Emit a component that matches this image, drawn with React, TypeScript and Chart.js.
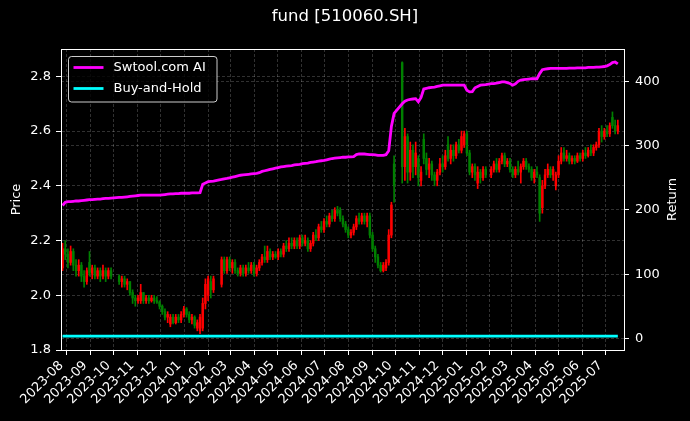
import React, { useEffect, useRef } from "react";
import { Chart, registerables } from "chart.js";

Chart.register(...registerables);

const FONT = "'DejaVu Sans', 'Liberation Sans', sans-serif";
const TITLE = "fund [510060.SH]";
const Y_LABEL = "Price";
const Y1_LABEL = "Return";
const SERIES_AI = "Swtool.com AI";
const SERIES_BH = "Buy-and-Hold";

const AXIS_ORIGIN = "2023-08-01";
const X_MIN_DATE = "2023-07-25";
const X_MAX_DATE = "2025-07-25";
const FIRST_CANDLE_DATE = "2023-07-27";
const CANDLE_STEP_DAYS = 3.5;

const MONTH_TICKS = [
  "2023-08", "2023-09", "2023-10", "2023-11", "2023-12",
  "2024-01", "2024-02", "2024-03", "2024-04", "2024-05", "2024-06", "2024-07",
  "2024-08", "2024-09", "2024-10", "2024-11", "2024-12",
  "2025-01", "2025-02", "2025-03", "2025-04", "2025-05", "2025-06", "2025-07",
];
const PRICE_TICKS = [1.8, 2.0, 2.2, 2.4, 2.6, 2.8];
const RETURN_TICKS = [0, 100, 200, 300, 400];
const PRICE_MIN = 1.8;
const PRICE_MAX = 2.9;
const RETURN_MIN = -17.6;
const RETURN_MAX = 450.2;

// candle data (null = market closed)
const opens = [
  2.10, 2.17, 2.15, 2.12, 2.16, 2.11, 2.09, 2.11, 2.07, 2.05,
  2.12, 2.08, 2.10, 2.07, 2.09, 2.07, 2.09, 2.07, 2.09, null,
  null, 2.07, 2.05, 2.06, 2.04, 2.05, 2.01, 1.99, 1.98, 1.98,
  2.01, 1.98, 1.99, 1.98, 1.99, 1.98, 1.975, 1.96, 1.94, 1.92,
  1.895, 1.92, 1.90, 1.92, 1.91, 1.93, 1.95, 1.93, 1.91, 1.92,
  1.88, 1.87, 1.88, 1.97, 2.00, 2.05, 2.02, null, null, 2.04,
  2.13, 2.09, 2.13, 2.10, 2.12, 2.09, 2.08, 2.10, 2.08, 2.10,
  2.09, 2.11, 2.08, 2.10, 2.12, 2.14, 2.13, 2.16, 2.14, 2.15,
  2.14, 2.16, 2.15, 2.18, 2.17, 2.19, 2.18, 2.20, 2.18, 2.21,
  2.19, 2.20, 2.17, 2.19, 2.22, 2.21, 2.25, 2.24, 2.27, 2.26,
  2.29, 2.28, 2.31, 2.31, 2.28, 2.26, 2.24, 2.22, 2.23, 2.25,
  2.28, 2.27, 2.29, 2.27, 2.29, 2.22, 2.17, 2.14, 2.11, 2.09,
  2.10, 2.12, 2.22, 2.48, null, null, 2.85, 2.47, 2.58, 2.45,
  2.53, 2.47, 2.50, 2.42, 2.57, 2.50, 2.46, 2.48, 2.44, 2.42,
  2.45, 2.48, 2.47, 2.55, 2.50, 2.53, 2.51, 2.55, 2.53, 2.55,
  2.59, 2.52, 2.45, 2.47, 2.41, 2.45, 2.43, 2.46, null, 2.44,
  2.46, 2.48, 2.46, 2.49, 2.51, 2.48, 2.49, 2.46, 2.44, 2.46,
  2.45, 2.47, 2.49, 2.47, 2.46, 2.43, 2.45, 2.43, 2.32, 2.40,
  2.44, 2.46, 2.44, 2.40, 2.44, 2.49, 2.52, 2.50, 2.51, 2.49,
  2.50, 2.49, 2.51, 2.50, 2.52, 2.51, 2.53, 2.52, 2.54, 2.55,
  2.60, 2.58, 2.60, 2.59, 2.65, 2.62, 2.60,
];
const closes = [
  2.17, 2.15, 2.12, 2.16, 2.11, 2.09, 2.11, 2.07, 2.05, 2.09,
  2.08, 2.10, 2.07, 2.09, 2.07, 2.09, 2.07, 2.09, 2.07, null,
  null, 2.05, 2.06, 2.04, 2.05, 2.01, 1.99, 1.98, 1.99, 2.01,
  1.98, 1.99, 1.98, 1.99, 1.98, 1.975, 1.96, 1.94, 1.92, 1.93,
  1.92, 1.90, 1.92, 1.91, 1.93, 1.95, 1.93, 1.91, 1.92, 1.89,
  1.90, 1.92, 1.97, 2.04, 2.06, 2.02, 2.06, null, null, 2.13,
  2.09, 2.13, 2.10, 2.12, 2.09, 2.08, 2.10, 2.08, 2.10, 2.09,
  2.11, 2.08, 2.10, 2.12, 2.14, 2.13, 2.16, 2.14, 2.15, 2.14,
  2.16, 2.15, 2.18, 2.17, 2.19, 2.18, 2.20, 2.18, 2.21, 2.19,
  2.20, 2.17, 2.19, 2.22, 2.21, 2.25, 2.24, 2.27, 2.26, 2.29,
  2.28, 2.31, 2.30, 2.28, 2.26, 2.24, 2.22, 2.23, 2.25, 2.28,
  2.27, 2.29, 2.27, 2.29, 2.22, 2.17, 2.14, 2.11, 2.09, 2.11,
  2.12, 2.22, 2.33, 2.40, null, null, 2.47, 2.58, 2.45, 2.53,
  2.47, 2.52, 2.43, 2.45, 2.50, 2.46, 2.48, 2.44, 2.42, 2.45,
  2.48, 2.47, 2.51, 2.50, 2.53, 2.51, 2.55, 2.53, 2.58, 2.59,
  2.52, 2.45, 2.47, 2.44, 2.45, 2.43, 2.46, 2.44, null, 2.46,
  2.48, 2.46, 2.49, 2.51, 2.48, 2.49, 2.46, 2.44, 2.46, 2.45,
  2.47, 2.49, 2.47, 2.46, 2.43, 2.45, 2.44, 2.30, 2.40, 2.44,
  2.46, 2.44, 2.46, 2.44, 2.49, 2.52, 2.50, 2.51, 2.49, 2.50,
  2.49, 2.51, 2.50, 2.52, 2.51, 2.53, 2.52, 2.54, 2.55, 2.60,
  2.58, 2.60, 2.59, 2.62, 2.62, 2.60, 2.62,
];
const highs = [
  2.19, 2.20, 2.17, 2.18, 2.17, 2.13, 2.13, 2.12, 2.09, 2.10,
  2.16, 2.11, 2.11, 2.10, 2.10, 2.11, 2.10, 2.10, 2.10, null,
  null, 2.075, 2.07, 2.07, 2.06, 2.05, 2.02, 2.00, 2.00, 2.04,
  2.01, 2.00, 2.00, 2.00, 2.00, 1.995, 1.98, 1.965, 1.95, 1.94,
  1.93, 1.93, 1.93, 1.93, 1.94, 1.96, 1.955, 1.94, 1.93, 1.925,
  1.91, 1.93, 1.99, 2.06, 2.07, 2.07, 2.07, null, null, 2.14,
  2.14, 2.14, 2.14, 2.13, 2.13, 2.10, 2.11, 2.11, 2.11, 2.12,
  2.12, 2.12, 2.11, 2.13, 2.15, 2.18, 2.18, 2.17, 2.16, 2.16,
  2.17, 2.17, 2.19, 2.20, 2.21, 2.21, 2.21, 2.21, 2.22, 2.22,
  2.22, 2.21, 2.20, 2.23, 2.24, 2.26, 2.27, 2.28, 2.29, 2.30,
  2.31, 2.32, 2.325, 2.32, 2.29, 2.27, 2.25, 2.24, 2.26, 2.29,
  2.30, 2.30, 2.30, 2.30, 2.30, 2.23, 2.18, 2.15, 2.12, 2.12,
  2.13, 2.24, 2.34, 2.51, null, null, 2.853, 2.61, 2.59, 2.56,
  2.55, 2.56, 2.51, 2.47, 2.59, 2.52, 2.50, 2.49, 2.45, 2.46,
  2.50, 2.51, 2.53, 2.58, 2.55, 2.55, 2.56, 2.57, 2.60, 2.60,
  2.60, 2.53, 2.48, 2.48, 2.47, 2.46, 2.47, 2.47, null, 2.47,
  2.49, 2.50, 2.50, 2.52, 2.52, 2.50, 2.50, 2.47, 2.47, 2.49,
  2.48, 2.50, 2.50, 2.48, 2.47, 2.46, 2.47, 2.44, 2.42, 2.46,
  2.48, 2.47, 2.47, 2.45, 2.51, 2.54, 2.54, 2.53, 2.52, 2.51,
  2.51, 2.52, 2.52, 2.53, 2.54, 2.54, 2.55, 2.55, 2.56, 2.61,
  2.62, 2.61, 2.62, 2.63, 2.67, 2.64, 2.64,
];
const lows = [
  2.09, 2.13, 2.10, 2.11, 2.09, 2.07, 2.07, 2.05, 2.03, 2.04,
  2.07, 2.06, 2.06, 2.06, 2.05, 2.06, 2.05, 2.06, 2.06, null,
  null, 2.04, 2.03, 2.03, 2.02, 2.00, 1.97, 1.96, 1.97, 1.97,
  1.97, 1.97, 1.97, 1.975, 1.97, 1.97, 1.95, 1.93, 1.91, 1.90,
  1.885, 1.895, 1.895, 1.90, 1.90, 1.92, 1.92, 1.90, 1.895, 1.88,
  1.87, 1.86, 1.87, 1.95, 1.98, 1.99, 2.01, null, null, 2.03,
  2.08, 2.08, 2.09, 2.08, 2.08, 2.07, 2.07, 2.07, 2.07, 2.08,
  2.08, 2.07, 2.07, 2.09, 2.11, 2.12, 2.12, 2.13, 2.13, 2.135,
  2.13, 2.14, 2.14, 2.16, 2.16, 2.17, 2.17, 2.17, 2.17, 2.18,
  2.18, 2.16, 2.16, 2.18, 2.20, 2.20, 2.23, 2.23, 2.25, 2.25,
  2.27, 2.27, 2.29, 2.27, 2.25, 2.23, 2.21, 2.21, 2.22, 2.24,
  2.26, 2.26, 2.26, 2.25, 2.21, 2.16, 2.12, 2.10, 2.085, 2.085,
  2.09, 2.11, 2.21, 2.34, null, null, 2.41, 2.42, 2.41, 2.42,
  2.43, 2.44, 2.40, 2.40, 2.48, 2.44, 2.43, 2.42, 2.40, 2.40,
  2.44, 2.45, 2.46, 2.49, 2.48, 2.49, 2.50, 2.52, 2.52, 2.54,
  2.51, 2.44, 2.43, 2.42, 2.39, 2.41, 2.42, 2.43, null, 2.43,
  2.45, 2.45, 2.45, 2.48, 2.47, 2.47, 2.45, 2.43, 2.43, 2.44,
  2.41, 2.46, 2.46, 2.45, 2.42, 2.41, 2.43, 2.27, 2.30, 2.39,
  2.43, 2.43, 2.42, 2.385, 2.43, 2.48, 2.49, 2.49, 2.48, 2.48,
  2.48, 2.485, 2.49, 2.49, 2.50, 2.505, 2.51, 2.51, 2.53, 2.54,
  2.56, 2.57, 2.58, 2.58, 2.61, 2.59, 2.59,
];
// strategy return (right axis), one value per candle slot
const aiReturn = [
  207, 212, 213, 213, 213.5, 214, 214, 214.5, 215, 215.5,
  216, 216, 216.5, 217, 217, 217.5, 218, 218, 218.5, null,
  null, 219.5, 219.5, 220, 220.5, 221, 221.5, 222, 222.5, 223,
  223, 223, 223, 223, 223, 223, 223, 223.5, 224, 224.5,
  225, 225, 225.5, 225.5, 226, 226, 226, 226, 226.5, 226.5,
  226.5, 227, 240, 242, 244, 244.5, 245, null, null, 247.5,
  248.5, 249, 250, 251, 252, 253, 254, 254.5, 255, 255.5,
  256, 256.5, 257, 258, 260, 261, 262, 263, 264, 265,
  266, 267, 267.5, 268, 268.5, 269, 270, 270.5, 271, 272,
  272.5, 273, 274, 274.5, 275, 276, 276.5, 277, 278, 279,
  280, 280.5, 281, 281.5, 282, 282, 282.5, 282.5, 283, 286,
  287, 287, 287, 286.5, 286, 286, 285.5, 285, 285, 285,
  286, 292, 330, 350, null, null, 365, 369, 371, 372,
  372.5, 373, 368, 375, 388, 389, 390, 390.5, 391, 392,
  393, 394, 394, 394, 394, 394, 394, 394, 394, 394,
  386, 383.5, 384, 390, 392, 394, 394.5, 395, null, 396.5,
  396.5, 397, 398, 399, 399, 398, 396.5, 394, 396, 400,
  402, 402.5, 403, 403.5, 404, 404, 404, 412, 418, 419,
  419.5, 420, 420, 420, 420, 420, 420, 420, 420.5, 420.5,
  420.5, 421, 421, 421, 421, 421.5, 421.5, 421.5, 422, 422,
  422.5, 423, 424, 426, 429, 430, 427,
];
// buy-and-hold return at first and last candle
const buyHold = [4, 4];

const UP = "#ff0000";
const DOWN = "#008000";
const AI_COLOR = "#ff00ff";
const BH_COLOR = "#00ffff";
const GRID = "rgba(255,255,255,0.28)";

const dayOf = (s: string) =>
  (Date.parse(s + "T00:00:00Z") - Date.parse(AXIS_ORIGIN + "T00:00:00Z")) / 86400000;

const decorPlugin = {
  id: "decor",
  afterDraw(chart: any) {
    const { ctx, chartArea: a } = chart;
    ctx.save();
    // frame
    ctx.strokeStyle = "#ffffff";
    ctx.lineWidth = 1;
    ctx.strokeRect(
      Math.round(a.left) + 0.5,
      Math.round(a.top) + 0.5,
      Math.round(a.right) - Math.round(a.left),
      Math.round(a.bottom) - Math.round(a.top)
    );
    // title
    ctx.fillStyle = "#ffffff";
    ctx.textAlign = "center";
    ctx.textBaseline = "middle";
    ctx.font = `16.5px ${FONT}`;
    ctx.fillText(TITLE, 345, 17);
    // axis titles
    ctx.font = `13px ${FONT}`;
    const cy = (a.top + a.bottom) / 2;
    ctx.save();
    ctx.translate(17, cy);
    ctx.rotate(-Math.PI / 2);
    ctx.fillText(Y_LABEL, 0, 0);
    ctx.restore();
    ctx.save();
    ctx.translate(673, cy);
    ctx.rotate(-Math.PI / 2);
    ctx.fillText(Y1_LABEL, 0, 0);
    ctx.restore();
    // legend
    const lx = a.left + 7.5;
    const ly = a.top + 7.5;
    const lw = 148.5;
    const lh = 45.5;
    ctx.beginPath();
    if ((ctx as any).roundRect) (ctx as any).roundRect(lx, ly, lw, lh, 3);
    else ctx.rect(lx, ly, lw, lh);
    ctx.fillStyle = "rgba(0,0,0,0.8)";
    ctx.fill();
    ctx.strokeStyle = "rgba(255,255,255,0.8)";
    ctx.lineWidth = 1;
    ctx.stroke();
    const items = [
      { label: SERIES_AI, color: AI_COLOR },
      { label: SERIES_BH, color: BH_COLOR },
    ];
    items.forEach((it, k) => {
      const y = ly + 11 + k * 21;
      ctx.strokeStyle = it.color;
      ctx.lineWidth = 2.8;
      ctx.beginPath();
      ctx.moveTo(lx + 5, y);
      ctx.lineTo(lx + 35, y);
      ctx.stroke();
      ctx.fillStyle = "#ffffff";
      ctx.textAlign = "left";
      ctx.textBaseline = "middle";
      ctx.font = `13px ${FONT}`;
      ctx.fillText(it.label, lx + 45, y + 0.5);
    });
    ctx.restore();
  },
};

export default function App() {
  const ref = useRef<HTMLCanvasElement>(null);
  useEffect(() => {
    document.body.style.margin = "0";
    document.body.style.background = "#000";
    const firstDay = dayOf(FIRST_CANDLE_DATE);
    const candleX = opens.map((_, i) => firstDay + i * CANDLE_STEP_DAYS);
    const idx = opens.map((_, i) => i).filter((i) => opens[i] != null);
    const bodies = idx.map((i) => ({ x: candleX[i], y: [opens[i], closes[i]] }));
    const wicks = idx.map((i) => ({ x: candleX[i], y: [lows[i], highs[i]] }));
    const colors = idx.map((i) => ((closes[i] as number) >= (opens[i] as number) ? UP : DOWN));
    const aiPts = aiReturn.map((v, i) => ({ x: candleX[i], y: v }));
    const bhPts = buyHold.map((v, k) => ({
      x: k === 0 ? candleX[0] : candleX[candleX.length - 1],
      y: v,
    }));

    const tickStyle = { color: "#ffffff", font: { family: FONT, size: 13 } };
    const gridStyle = {
      color: GRID,
      lineWidth: 0.7,
      tickColor: "#ffffff",
      tickLength: 5,
      tickWidth: 1,
      tickBorderDash: [],
    };
    const border = { color: "#ffffff", width: 1, dash: [3, 2] };

    const chart = new Chart(ref.current as HTMLCanvasElement, {
      type: "bar",
      data: {
        datasets: [
          {
            type: "line",
            label: SERIES_AI,
            data: aiPts,
            yAxisID: "y1",
            borderColor: AI_COLOR,
            backgroundColor: AI_COLOR,
            borderWidth: 2.8,
            pointRadius: 0,
            spanGaps: true,
            tension: 0,
            order: 0,
          } as any,
          {
            type: "line",
            label: SERIES_BH,
            data: bhPts,
            yAxisID: "y1",
            borderColor: BH_COLOR,
            backgroundColor: BH_COLOR,
            borderWidth: 2.8,
            pointRadius: 0,
            order: 1,
          } as any,
          {
            type: "bar",
            label: "wick",
            data: wicks,
            yAxisID: "y",
            backgroundColor: colors,
            barThickness: 1,
            grouped: false,
            order: 3,
          } as any,
          {
            type: "bar",
            label: "body",
            data: bodies,
            yAxisID: "y",
            backgroundColor: colors,
            barThickness: 1.8,
            grouped: false,
            order: 2,
          } as any,
        ],
      },
      options: {
        responsive: false,
        animation: false,
        devicePixelRatio: 1,
        events: [],
        layout: { padding: { top: 49, left: 0, right: 0, bottom: 0 } },
        plugins: {
          legend: { display: false },
          title: { display: false },
          tooltip: { enabled: false },
        },
        scales: {
          x: {
            type: "linear",
            min: dayOf(X_MIN_DATE),
            max: dayOf(X_MAX_DATE),
            offset: false,
            grid: { ...gridStyle, offset: false },
            border,
            ticks: {
              ...tickStyle,
              autoSkip: false,
              maxRotation: 45,
              minRotation: 45,
              padding: 3,
              labelOffset: -5,
              callback: (_v: any, i: number) => MONTH_TICKS[i],
            },
            afterBuildTicks: (s: any) => {
              s.ticks = MONTH_TICKS.map((m) => ({ value: dayOf(m + "-01") }));
            },
            afterFit: (s: any) => {
              s.height = 71;
            },
          },
          y: {
            type: "linear",
            position: "left",
            min: PRICE_MIN,
            max: PRICE_MAX,
            grid: gridStyle,
            border,
            ticks: {
              ...tickStyle,
              padding: 5,
              callback: (v: any) => Number(v).toFixed(1),
            },
            afterBuildTicks: (s: any) => {
              s.ticks = PRICE_TICKS.map((v) => ({ value: v }));
            },
            afterFit: (s: any) => {
              s.width = 61;
            },
          },
          y1: {
            type: "linear",
            position: "right",
            min: RETURN_MIN,
            max: RETURN_MAX,
            grid: gridStyle,
            border,
            ticks: {
              ...tickStyle,
              padding: 6,
              callback: (v: any) => String(v),
            },
            afterBuildTicks: (s: any) => {
              s.ticks = RETURN_TICKS.map((v) => ({ value: v }));
            },
            afterFit: (s: any) => {
              s.width = 66;
            },
          },
        },
      } as any,
      plugins: [decorPlugin],
    });
    return () => chart.destroy();
  }, []);

  return (
    <div
      style={{
        position: "fixed",
        left: 0,
        top: 0,
        width: 690,
        height: 421,
        background: "#000",
      }}
    >
      <canvas
        ref={ref}
        width={690}
        height={421}
        style={{ display: "block", width: 690, height: 421 }}
      />
    </div>
  );
}
